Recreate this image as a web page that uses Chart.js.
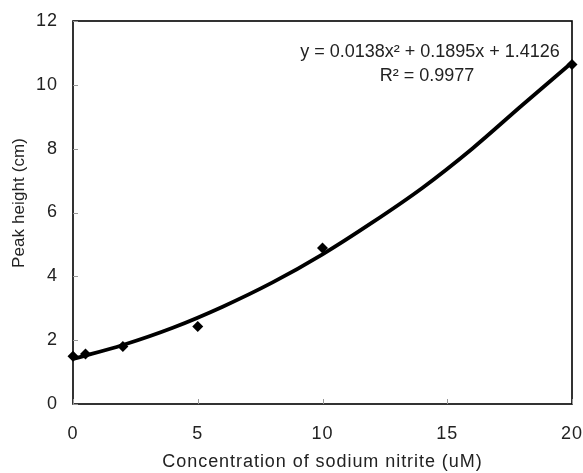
<!DOCTYPE html>
<html><head><meta charset="utf-8">
<script src="https://cdn.jsdelivr.net/npm/chart.js@4/dist/chart.umd.min.js"></script>
<style>html,body{margin:0;padding:0;background:#fff;}#wrap{width:583px;height:473px;}</style>
</head><body><div id="wrap"><canvas id="c" width="583" height="473"></canvas></div>
<script>
const concentrations = [0, 0.5, 2, 5, 10, 20];
const peakHeights = [1.5, 1.57, 1.8, 2.43, 4.89, 10.64];
const trendX = [0, 2, 4, 6, 8, 10, 12, 14, 16, 18, 20];
const trendY = [1.41, 1.85, 2.39, 3.05, 3.81, 4.69, 5.69, 6.77, 8.0, 9.36, 10.7];
const equationLines = ['y = 0.0138x² + 0.1895x + 1.4126', 'R² = 0.9977'];
const xTitle = 'Concentration of sodium nitrite (uM)';
const yTitle = 'Peak height (cm)';

const FONT = '"Liberation Sans", Arial, sans-serif';
const TXT = '#222';

const spacingPlugin = {
  id: 'spacing',
  beforeDraw(chart) { chart.ctx.letterSpacing = '0.95px'; }
};

const framePlugin = {
  id: 'frame',
  afterDraw(chart) {
    const {ctx, chartArea: a, scales} = chart;
    ctx.save();
    ctx.strokeStyle = '#000';
    ctx.lineWidth = 1.6;
    ctx.strokeRect(a.left, a.top, a.right - a.left, a.bottom - a.top);
    ctx.strokeStyle = '#999';
    ctx.lineWidth = 1;
    scales.y.ticks.forEach(t => {
      const y = Math.round(scales.y.getPixelForValue(t.value)) + 0.5;
      ctx.beginPath(); ctx.moveTo(a.left, y); ctx.lineTo(a.left + 5, y); ctx.stroke();
    });
    scales.x.ticks.forEach(t => {
      const x = Math.round(scales.x.getPixelForValue(t.value)) + 0.5;
      ctx.beginPath(); ctx.moveTo(x, a.bottom); ctx.lineTo(x, a.bottom - 5); ctx.stroke();
    });
    ctx.fillStyle = TXT;
    ctx.font = '18px ' + FONT;
    ctx.letterSpacing = '0px';
    ctx.textAlign = 'center';
    ctx.textBaseline = 'middle';
    ctx.fillText(equationLines[0], 430, 52);
    ctx.fillText(equationLines[1], 427, 76);
    ctx.font = '17px ' + FONT;
    ctx.letterSpacing = '0.1px';
    ctx.translate(19, 203);
    ctx.rotate(-Math.PI / 2);
    ctx.fillText(yTitle, 0, 0);
    ctx.restore();
  }
};

new Chart(document.getElementById('c'), {
  type: 'scatter',
  data: {
    datasets: [
      {
        data: trendX.map((x, i) => ({x, y: trendY[i]})),
        showLine: true, borderColor: '#000', borderWidth: 3.8, pointRadius: 0,
        cubicInterpolationMode: 'monotone', clip: false, order: 2
      },
      {
        data: concentrations.map((x, i) => ({x, y: peakHeights[i]})),
        showLine: false, pointStyle: 'rectRot', pointRadius: 5.5,
        backgroundColor: '#000', borderColor: '#000', borderWidth: 0, clip: false, order: 1
      }
    ]
  },
  options: {
    responsive: false, animation: false,
    layout: {padding: {left: 0, right: 11, top: 21, bottom: 0}},
    plugins: {legend: {display: false}, tooltip: {enabled: false}},
    scales: {
      x: {
        type: 'linear', min: 0, max: 20,
        grid: {display: false, drawTicks: false},
        border: {display: false},
        ticks: {stepSize: 5, color: TXT, font: {family: FONT, size: 18}, padding: 19},
        title: {display: true, text: xTitle, color: TXT, font: {family: FONT, size: 18}, padding: {top: 2, bottom: 0}},
        afterFit(s) { s.height = 69; s.paddingLeft = 0; s.paddingRight = 0; }
      },
      y: {
        min: 0, max: 12,
        grid: {display: false, drawTicks: false},
        border: {display: false},
        ticks: {stepSize: 2, color: TXT, font: {family: FONT, size: 18}, padding: 15},
        title: {display: false},
        afterFit(s) { s.width = 73; s.paddingTop = 0; s.paddingBottom = 0; }
      }
    }
  },
  plugins: [spacingPlugin, framePlugin]
});
</script></body></html>
